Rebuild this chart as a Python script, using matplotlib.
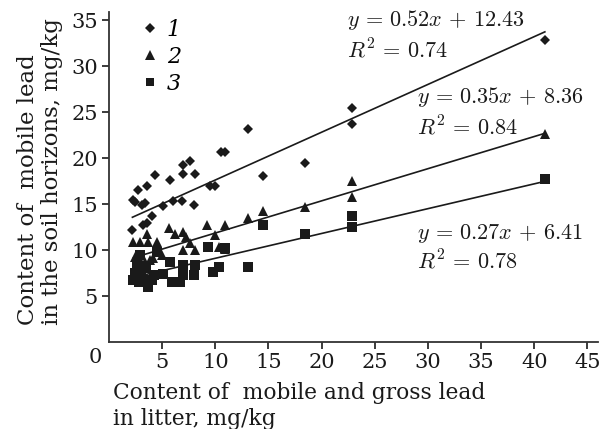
import matplotlib
matplotlib.use("Agg")
import matplotlib.pyplot as plt
import numpy as np

plt.rcParams['font.family'] = ['DejaVu Serif']
plt.rcParams['mathtext.fontset'] = 'cm'

# Series 1 (diamonds)
x1 = [2.2, 2.3, 2.4, 2.7, 3.1, 3.2, 3.4, 3.6, 3.6, 4.0, 4.3, 5.1, 5.7, 6.0, 6.9, 7.0,
      7.0, 7.6, 8.0, 8.1, 9.5, 10.0, 10.5, 10.9, 13.1, 14.5, 18.4, 22.9, 22.9, 41.0]
y1 = [12.2, 15.4, 15.2, 16.5, 14.9, 12.7, 15.1, 17.0, 13.0, 13.7, 18.2, 14.8, 17.6, 15.3, 15.3, 18.3,
      19.3, 19.7, 14.9, 18.3, 17.0, 17.0, 20.7, 20.7, 23.2, 18.1, 19.5, 25.5, 23.7, 32.9]
# Series 2 (triangles)
x2 = [2.3, 2.4, 2.5, 2.9, 2.9, 3.4, 3.6, 3.7, 3.9, 4.1, 4.5, 5.0, 5.6, 6.2, 7.0, 7.2, 7.0,
      7.6, 8.1, 9.2, 10.0, 10.3, 10.9, 10.9, 13.1, 14.5, 18.4, 22.9, 22.9, 41.0]
y2 = [10.9, 9.2, 8.4, 10.9, 8.9, 8.7, 11.8, 10.9, 8.9, 9.1, 10.9, 9.5, 12.4, 11.8, 12.0, 11.4, 10.0,
      10.8, 10.0, 12.7, 11.6, 10.3, 12.7, 10.1, 13.5, 14.3, 14.7, 17.5, 15.8, 22.6]
# Series 3 (squares)
x3 = [2.3, 2.4, 2.6, 2.8, 2.9, 3.0, 3.2, 3.5, 3.7, 4.0, 4.2, 4.5, 5.1, 5.7, 5.9, 6.7, 7.0, 7.0,
      8.0, 8.1, 9.3, 9.8, 10.3, 10.9, 13.1, 14.5, 18.4, 22.9, 22.9, 41.0]
y3 = [6.8, 7.5, 8.2, 6.5, 9.5, 7.8, 6.7, 8.0, 6.0, 6.7, 7.3, 9.8, 7.4, 8.7, 6.5, 6.5, 8.4, 7.3,
      7.3, 8.4, 10.3, 7.6, 8.2, 10.2, 8.2, 12.7, 11.8, 13.7, 12.5, 17.7]

labels = ['1', '2', '3']
slopes = [0.52, 0.35, 0.27]
intercepts = [12.43, 8.36, 6.41]
r2 = ['0.74', '0.84', '0.78']
line_x0 = [2.2, 2.3, 2.9]
line_x1 = [41.0, 41.0, 41.0]

xticks = [5, 10, 15, 20, 25, 30, 35, 40, 45]
yticks = [5, 10, 15, 20, 25, 30, 35]

col = '#1a1a1a'
fig = plt.figure(figsize=(6, 4.29), dpi=100)
ax = fig.add_axes([0.1817, 0.2028, 0.815, 0.769])

markers = ['D', '^', 's']
sizes = [5.5, 7.5, 6.5]
series = [(x1, y1), (x2, y2), (x3, y3)]
handles = []
for (xs, ys), m, ms, lab in zip(series, markers, sizes, labels):
    h, = ax.plot(xs, ys, linestyle='none', marker=m, markersize=ms, color=col,
                 markeredgewidth=0, label=lab)
    handles.append(h)

for a, b, xa, xb in zip(slopes, intercepts, line_x0, line_x1):
    xx = np.array([xa, xb])
    ax.plot(xx, a * xx + b, color=col, lw=1.2)

ax.set_xlim(0, 46)
ax.set_ylim(0, 35.9)
ax.set_xticks(xticks)
ax.set_yticks(yticks)
ax.tick_params(direction='out', length=5, width=1.2, labelsize=15, colors=col, pad=3)
for s in ['top', 'right']:
    ax.spines[s].set_visible(False)
for s in ['left', 'bottom']:
    ax.spines[s].set_linewidth(1.3)
    ax.spines[s].set_color('#333333')

ax.text(-14 / 10.62, -1.65, '0', fontsize=15, ha='center', va='center', color=col)

leg = ax.legend(handles=handles, loc='upper left', bbox_to_anchor=(0.025, 1.04),
                frameon=False, handlelength=0.8, handletextpad=0.35,
                labelspacing=0.22, markerscale=0.95, prop={'style': 'italic', 'size': 16})

eq_pos = [(22.4, 35.0, 31.7), (29.0, 26.7, 23.3), (29.0, 11.8, 8.7)]
for (ex, ey1, ey2), a, b, r in zip(eq_pos, slopes, intercepts, r2):
    ax.text(ex, ey1, r'$y\,=\,%.2fx\,+\,%.2f$' % (a, b), fontsize=16, va='center', ha='left', color=col)
    ax.text(ex, ey2, r'$R^2\,=\,%s$' % r, fontsize=16, va='center', ha='left', color=col)

fig.text(0.188, (429 - 406) / 429, 'Content of  mobile and gross lead\nin litter, mg/kg',
         fontsize=15.7, ha='left', va='center', color=col, linespacing=1.2)
fig.text(40 / 600, (429 - 325) / 429, 'Content of  mobile lead\nin the soil horizons, mg/kg',
         fontsize=16.5, rotation=90, ha='center', va='bottom', multialignment='left',
         color=col, linespacing=1.1)

fig.savefig('out.png', dpi=100)
